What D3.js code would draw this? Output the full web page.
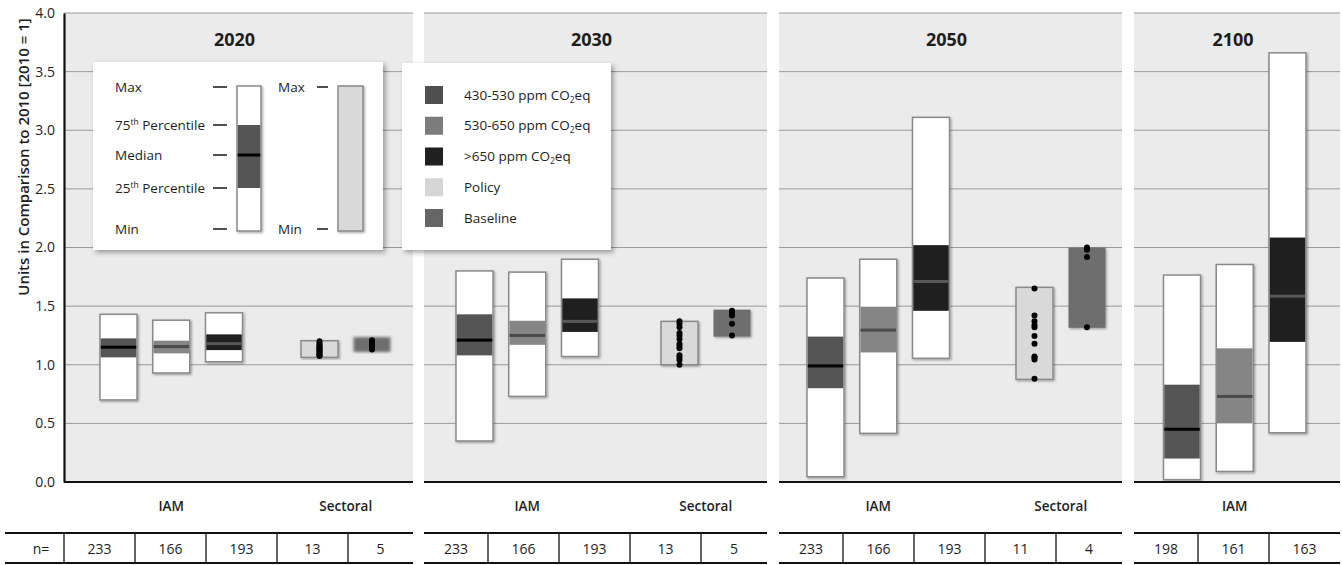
<!DOCTYPE html>
<html>
<head>
<meta charset="utf-8">
<script src="https://cdn.jsdelivr.net/npm/d3@7"></script>
<style>
  html, body { margin: 0; padding: 0; background: #fff; }
  svg { display: block; font-family: "Open Sans", "Noto Sans", sans-serif; }
</style>
</head>
<body>
<svg id="chart" width="1342" height="565"></svg>
<script>
// ---- data -------------------------------------------------------------
const years = ["2020", "2030", "2050", "2100"];
const iamScenarios = ["430-530 ppm", "530-650 ppm", ">650 ppm"];
const yTicks = [0, 0.5, 1.0, 1.5, 2.0, 2.5, 3.0, 3.5, 4.0];

// IAM ranges per year: [min, 25th percentile, median, 75th percentile, max]
const iam430to530 = [
  [0.70, 1.063, 1.15, 1.225, 1.43],
  [0.35, 1.08, 1.21, 1.43, 1.80],
  [0.045, 0.80, 0.99, 1.24, 1.74],
  [0.02, 0.20, 0.45, 0.83, 1.765]
];
const iam530to650 = [
  [0.93, 1.097, 1.155, 1.205, 1.38],
  [0.73, 1.17, 1.25, 1.375, 1.79],
  [0.415, 1.105, 1.295, 1.495, 1.90],
  [0.09, 0.50, 0.73, 1.14, 1.855]
];
const iamAbove650 = [
  [1.026, 1.125, 1.18, 1.259, 1.443],
  [1.07, 1.28, 1.37, 1.566, 1.90],
  [1.055, 1.46, 1.71, 2.02, 3.11],
  [0.42, 1.195, 1.585, 2.085, 3.66]
];

// Sectoral studies (2020, 2030, 2050): [min, max] and individual results
const sectoralPolicyRange = [[1.063, 1.205], [1.0, 1.37], [0.875, 1.66]];
const sectoralBaselineRange = [[1.108, 1.236], [1.24, 1.47], [1.315, 2.0]];
const sectoralPolicyPoints = [
  [1.075, 1.08, 1.09, 1.10, 1.11, 1.12, 1.13, 1.14, 1.15, 1.16, 1.17, 1.185, 1.20],
  [1.37, 1.35, 1.32, 1.27, 1.25, 1.22, 1.18, 1.16, 1.14, 1.08, 1.06, 1.04, 1.00],
  [1.65, 1.42, 1.37, 1.34, 1.32, 1.245, 1.18, 1.07, 1.06, 1.045, 0.88]
];
const sectoralBaselinePoints = [
  [1.13, 1.15, 1.17, 1.19, 1.21],
  [1.46, 1.44, 1.42, 1.35, 1.25],
  [2.0, 1.98, 1.92, 1.32]
];

// number of scenarios / studies
const nIAM = [[233, 166, 193], [233, 166, 193], [233, 166, 193], [198, 161, 163]];
const nSectoral = [[13, 5], [13, 5], [11, 4]];

const legendItems = ["430-530 ppm CO2eq", "530-650 ppm CO2eq", ">650 ppm CO2eq", "Policy", "Baseline"];

// ---- layout -----------------------------------------------------------
const svg = d3.select("#chart");
const textColor = "#1e1e1e";
const iqrFill = ["#555555", "#858585", "#1f1f1f"];
const medianFill = ["#000000", "#4a4a4a", "#585858"];
const legendFill = ["#4f4f4f", "#7c7c7c", "#202020", "#d6d6d6", "#666666"];
const policyFill = "#d9d9d9";
const baselineFill = "#6e6e6e";
const boxStroke = "#8a8a8a";

const panels = [[64, 413], [424, 767], [779, 1122], [1134, 1340]];
const iamInset = [54.5, 50.5, 46.5, 48];
const tableStart = [64, 417, 772, 1127];
const cellW = 71;
const boxW = 37;

const y = d3.scaleLinear().domain([0, 4]).range([482, 13]);

const defs = svg.append("defs");
defs.append("filter").attr("id", "boxShadow")
  .attr("x", "-30%").attr("y", "-10%").attr("width", "160%").attr("height", "120%")
  .append("feDropShadow").attr("dx", 1.2).attr("dy", 1.2).attr("stdDeviation", 1.2)
  .attr("flood-color", "#000").attr("flood-opacity", 0.35);
defs.append("filter").attr("id", "panelShadow")
  .attr("x", "-10%").attr("y", "-10%").attr("width", "120%").attr("height", "120%")
  .append("feDropShadow").attr("dx", 2.5).attr("dy", 2.5).attr("stdDeviation", 2.5)
  .attr("flood-color", "#000").attr("flood-opacity", 0.35);
defs.append("filter").attr("id", "soft")
  .append("feGaussianBlur").attr("stdDeviation", 1.4);

// panel backgrounds, gridlines, baselines
panels.forEach(([x0, x1]) => {
  svg.append("rect")
    .attr("x", x0).attr("y", y(4)).attr("width", x1 - x0).attr("height", y(0) - y(4))
    .attr("fill", "#ebebeb");
  svg.append("g").selectAll("line").data(yTicks.filter(t => t > 0)).join("line")
    .attr("x1", x0).attr("x2", x1)
    .attr("y1", d => y(d)).attr("y2", d => y(d))
    .attr("stroke", "#9a9a9a").attr("stroke-width", 1);
  svg.append("line")
    .attr("x1", x0).attr("x2", x1).attr("y1", y(0)).attr("y2", y(0))
    .attr("stroke", "#111").attr("stroke-width", 2.2);
});

// y axis
const yAxis = svg.append("g").attr("transform", "translate(64,0)")
  .call(d3.axisLeft(y).tickValues(yTicks).tickFormat(d3.format(".1f")).tickSize(0).tickSizeOuter(0).tickPadding(9));
yAxis.select(".domain").attr("stroke", "#111").attr("stroke-width", 2.2);
yAxis.selectAll("text").attr("font-size", 14).attr("fill", textColor)
  .attr("font-family", "\"Open Sans\", sans-serif");

svg.append("text")
  .attr("transform", "translate(24,157) rotate(-90)")
  .attr("text-anchor", "middle").attr("dy", "0.35em")
  .attr("font-size", 15).attr("font-weight", 600).attr("fill", textColor)
  .text("Units in Comparison to 2010 [2010 = 1]");

// ---- boxes per panel ---------------------------------------------------
const iamSeries = [iam430to530, iam530to650, iamAbove650];

years.forEach((year, p) => {
  const [x0, x1] = panels[p];
  const xIam = d3.scaleLinear().domain([0, 1]).range([x0 + iamInset[p], x0 + iamInset[p] + 52.75]);
  const xSect = d3.scaleLinear().domain([0, 1]).range([x0 + 255.5, x0 + 308]);

  svg.append("text")
    .attr("x", (x0 + x1) / 2 - 4).attr("y", 40).attr("dy", "0.35em")
    .attr("text-anchor", "middle").attr("font-size", 18).attr("font-weight", 700)
    .attr("fill", textColor).text(year);

  const g = svg.append("g");
  iamSeries.forEach((series, s) => {
    const [mn, q25, med, q75, mx] = series[p];
    const cx = xIam(s);
    g.append("rect")
      .attr("x", cx - boxW / 2).attr("y", y(mx))
      .attr("width", boxW).attr("height", y(mn) - y(mx))
      .attr("fill", "#fff").attr("stroke", boxStroke).attr("stroke-width", 1.5)
      .attr("filter", "url(#boxShadow)");
    g.append("rect")
      .attr("x", cx - boxW / 2 + 0.75).attr("y", y(q75))
      .attr("width", boxW - 1.5).attr("height", y(q25) - y(q75))
      .attr("fill", iqrFill[s]);
    g.append("rect")
      .attr("x", cx - boxW / 2 + 0.75).attr("y", y(med) - 1.5)
      .attr("width", boxW - 1.5).attr("height", 3)
      .attr("fill", medianFill[s]);
  });

  svg.append("text")
    .attr("x", xIam(1)).attr("y", 506).attr("dy", "0.35em")
    .attr("text-anchor", "middle").attr("font-size", 13.5).attr("font-weight", 600)
    .attr("fill", textColor).text("IAM");

  if (p < sectoralPolicyRange.length) {
    const [pMin, pMax] = sectoralPolicyRange[p];
    const [bMin, bMax] = sectoralBaselineRange[p];
    const cp = xSect(0), cb = xSect(1);
    g.append("rect")
      .attr("x", cp - boxW / 2).attr("y", y(pMax))
      .attr("width", boxW).attr("height", y(pMin) - y(pMax))
      .attr("fill", policyFill).attr("stroke", boxStroke).attr("stroke-width", 1.5)
      .attr("filter", "url(#boxShadow)");
    g.append("rect")
      .attr("x", cb - boxW / 2).attr("y", y(bMax))
      .attr("width", boxW).attr("height", y(bMin) - y(bMax))
      .attr("fill", baselineFill)
      .attr("filter", p === 0 ? "url(#soft)" : "url(#boxShadow)");
    g.append("g").selectAll("circle").data(sectoralPolicyPoints[p]).join("circle")
      .attr("cx", cp).attr("cy", d => y(d)).attr("r", 3).attr("fill", "#000");
    g.append("g").selectAll("circle").data(sectoralBaselinePoints[p]).join("circle")
      .attr("cx", cb).attr("cy", d => y(d)).attr("r", 3).attr("fill", "#000");

    svg.append("text")
      .attr("x", (cp + cb) / 2).attr("y", 506).attr("dy", "0.35em")
      .attr("text-anchor", "middle").attr("font-size", 13.5).attr("font-weight", 600)
      .attr("fill", textColor).text("Sectoral");
  }

  // n= table row
  const counts = nIAM[p].concat(p < nSectoral.length ? nSectoral[p] : []);
  const edges = [x0];
  for (let k = 1; edges.length < counts.length; k++) {
    const e = tableStart[p] + cellW * k;
    if (e > x0 && e < x1) edges.push(e);
  }
  edges.push(x1);
  const tx0 = p === 0 ? 5 : x0;
  const tg = svg.append("g");
  tg.append("line").attr("x1", tx0).attr("x2", x1).attr("y1", 533).attr("y2", 533)
    .attr("stroke", "#111").attr("stroke-width", 2.2);
  tg.append("line").attr("x1", tx0).attr("x2", x1).attr("y1", 563).attr("y2", 563)
    .attr("stroke", "#111").attr("stroke-width", 2.2);
  const dividers = edges.slice(p === 0 ? 0 : 1, -1);
  tg.selectAll("line.div").data(dividers).join("line").attr("class", "div")
    .attr("x1", d => d).attr("x2", d => d).attr("y1", 533).attr("y2", 563)
    .attr("stroke", "#111").attr("stroke-width", 1.3);
  tg.selectAll("text").data(counts).join("text")
    .attr("x", (d, i) => (edges[i] + edges[i + 1]) / 2).attr("y", 549).attr("dy", "0.35em")
    .attr("text-anchor", "middle").attr("font-size", 14).attr("fill", textColor)
    .text(d => d);
  if (p === 0) {
    tg.append("text").attr("x", 41).attr("y", 549).attr("dy", "0.35em")
      .attr("text-anchor", "middle").attr("font-size", 14).attr("fill", textColor).text("n=");
  }
});

// ---- legend: box explanation --------------------------------------------
const lg1 = svg.append("g");
lg1.append("rect").attr("x", 93).attr("y", 62).attr("width", 290).attr("height", 188)
  .attr("fill", "#fff").attr("filter", "url(#panelShadow)");
const keyRows = [
  { label: ["Max"], y: 87 },
  { label: ["75", "th", " Percentile"], y: 125 },
  { label: ["Median"], y: 155 },
  { label: ["25", "th", " Percentile"], y: 188 },
  { label: ["Min"], y: 229 }
];
keyRows.forEach(r => {
  const t = lg1.append("text").attr("x", 115).attr("y", r.y).attr("dy", "0.35em")
    .attr("font-size", 13.5).attr("fill", textColor);
  t.append("tspan").text(r.label[0]);
  if (r.label.length > 1) {
    t.append("tspan").attr("font-size", 8.5).attr("dy", "-0.55em").text(r.label[1]);
    t.append("tspan").attr("dy", "0.34em").text(r.label[2]);
  }
  lg1.append("line").attr("x1", 213).attr("x2", 227).attr("y1", r.y).attr("y2", r.y)
    .attr("stroke", "#222").attr("stroke-width", 1.6);
});
lg1.append("rect").attr("x", 237).attr("y", 86).attr("width", 24).attr("height", 145)
  .attr("fill", "#fff").attr("stroke", boxStroke).attr("stroke-width", 1.5)
  .attr("filter", "url(#boxShadow)");
lg1.append("rect").attr("x", 237.75).attr("y", 125).attr("width", 22.5).attr("height", 63)
  .attr("fill", "#555");
lg1.append("rect").attr("x", 237.75).attr("y", 153.5).attr("width", 22.5).attr("height", 3)
  .attr("fill", "#000");
[["Max", 87], ["Min", 229]].forEach(([lab, yy]) => {
  lg1.append("text").attr("x", 278).attr("y", yy).attr("dy", "0.35em")
    .attr("font-size", 13.5).attr("fill", textColor).text(lab);
  lg1.append("line").attr("x1", 317).attr("x2", 328).attr("y1", yy).attr("y2", yy)
    .attr("stroke", "#222").attr("stroke-width", 1.6);
});
lg1.append("rect").attr("x", 338).attr("y", 86).attr("width", 25).attr("height", 145)
  .attr("fill", policyFill).attr("stroke", boxStroke).attr("stroke-width", 1.5)
  .attr("filter", "url(#boxShadow)");

// ---- legend: scenario categories ----------------------------------------
const lg2 = svg.append("g");
lg2.append("rect").attr("x", 402).attr("y", 63).attr("width", 209).attr("height", 187)
  .attr("fill", "#fff").attr("filter", "url(#panelShadow)");
const legendY = d3.scalePoint().domain(legendItems).range([95, 218]);
legendItems.forEach((item, i) => {
  const yy = legendY(item);
  lg2.append("rect").attr("x", 425).attr("y", yy - 9).attr("width", 18).attr("height", 18)
    .attr("fill", legendFill[i]);
  const t = lg2.append("text").attr("x", 464).attr("y", yy).attr("dy", "0.35em")
    .attr("font-size", 13.5).attr("fill", textColor);
  const m = item.match(/^(.*CO)2(eq)$/);
  if (m) {
    t.append("tspan").text(m[1]);
    t.append("tspan").attr("font-size", 8.5).attr("dy", "0.35em").text("2");
    t.append("tspan").attr("dy", "-0.22em").text(m[2]);
  } else {
    t.text(item);
  }
});
</script>
</body>
</html>
